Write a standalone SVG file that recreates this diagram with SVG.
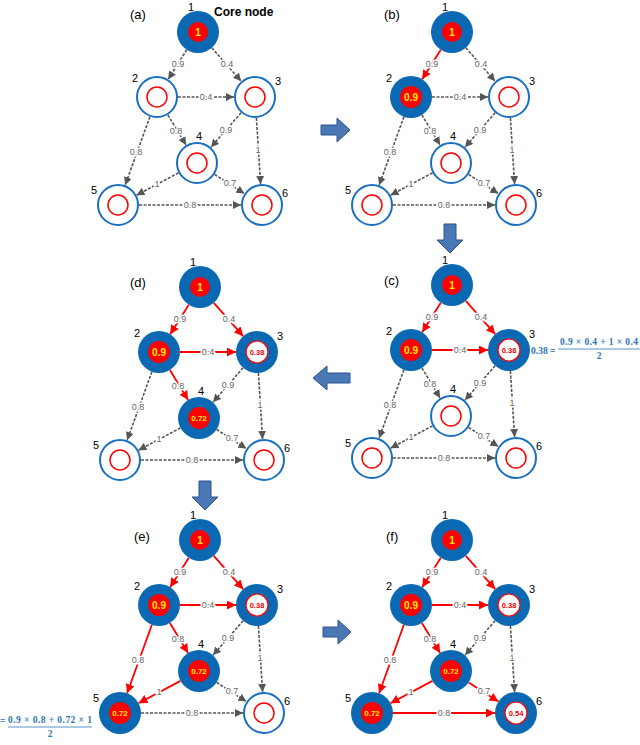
<svg xmlns="http://www.w3.org/2000/svg" width="640" height="745" viewBox="0 0 640 745">
<defs>
<marker id="mg" viewBox="0 0 8 8" refX="8" refY="4" markerWidth="8" markerHeight="8" markerUnits="userSpaceOnUse" orient="auto"><path d="M0,0 L8,4 L0,8 z" fill="#555"/></marker>
<marker id="mr" viewBox="0 0 8 8" refX="8" refY="4" markerWidth="9" markerHeight="9" markerUnits="userSpaceOnUse" orient="auto"><path d="M0,0 L8,4 L0,8 z" fill="#f00"/></marker>
</defs>
<style>
text{font-family:"Liberation Sans",Arial,sans-serif}
.g{stroke:#555;stroke-width:1.6;stroke-dasharray:3 1.5;fill:none;marker-end:url(#mg)}
.r{stroke:#f00;stroke-width:1.8;fill:none;marker-end:url(#mr)}
.el{font-size:9px;fill:#666;stroke:#fff;stroke-width:3;paint-order:stroke;text-anchor:middle;dominant-baseline:central}
.fb{fill:#0b69b4}
.ob{fill:#fff;stroke:#1a6fc0;stroke-width:2}
.ir{fill:#f00}
.io{fill:none;stroke:#f00;stroke-width:1.5}
.iw{fill:#fff;stroke:#f00;stroke-width:1.2}
.ty{fill:#ffeb00;font-weight:bold;font-size:10px;text-anchor:middle;dominant-baseline:central}
.ts{fill:#ffeb00;font-weight:bold;font-size:8px;text-anchor:middle;dominant-baseline:central}
.tr{fill:#e00;font-weight:bold;font-size:7.5px;text-anchor:middle;dominant-baseline:central}
.nl{font-size:11px;fill:#000}
.pl{font-size:13px;fill:#000}
.ba{fill:#4a78b5;stroke:#2f528f;stroke-width:1}
.fm{font-family:"Liberation Serif",serif;font-weight:bold;font-size:9.5px;fill:#2e75b6}
</style>

<text class="pl" x="130" y="19">(a)</text>
<text x="214" y="16" font-size="12" font-weight="bold">Core node</text>
<text class="pl" x="384" y="19">(b)</text>
<text class="pl" x="384" y="285">(c)</text>
<text class="pl" x="130" y="287">(d)</text>
<text class="pl" x="134" y="541">(e)</text>
<text class="pl" x="386" y="541">(f)</text>

<g id="bigarrows">
<path class="ba" d="M321,125 H337 V118 L350,130 L337,142 V135 H321 z"/>
<path class="ba" d="M444,224 H456 V240 H463 L450,253 L437,240 H444 z"/>
<path class="ba" d="M350,373 H327 V366 L313,378 L327,390 V383 H350 z"/>
<path class="ba" d="M199,481 H211 V497 H218 L205,510 L192,497 H199 z"/>
<path class="ba" d="M323,627 H338 V620 L351,632 L338,644 V637 H323 z"/>
</g>

<!-- panel a -->
<g transform="translate(0,0)">
<g id="a-edges">
<line class="g" x1="186.8" y1="49.7" x2="168.2" y2="79.3"/><line class="g" x1="211.8" y1="47.8" x2="241.2" y2="81.2"/><line class="g" x1="178" y1="97" x2="234" y2="97"/><line class="g" x1="167.9" y1="115" x2="186.1" y2="145"/><line class="g" x1="241.1" y1="112.8" x2="210.9" y2="147.2"/><line class="g" x1="149.9" y1="116.8" x2="125.1" y2="185.2"/><line class="g" x1="256.4" y1="118" x2="260.6" y2="184"/><line class="g" x1="178.5" y1="172.9" x2="136.5" y2="195.2"/><line class="g" x1="214.6" y1="174.4" x2="244.4" y2="193.6"/><line class="g" x1="139" y1="205" x2="241" y2="205"/>
<text class="el" x="178" y="64">0.9</text><text class="el" x="227" y="64">0.4</text><text class="el" x="206" y="97">0.4</text><text class="el" x="176" y="131">0.8</text><text class="el" x="226" y="130">0.9</text><text class="el" x="136" y="152">0.8</text><text class="el" x="258" y="150">1</text><text class="el" x="157" y="184">1</text><text class="el" x="230" y="183">0.7</text><text class="el" x="190" y="205">0.8</text>
</g>
<g id="a-n1" transform="translate(198,32)"><circle class="fb" r="21"/><circle class="ir" r="10"/><text class="ty">1</text><text class="nl" x="-10" y="-21">1</text></g>
<g id="a-n2" transform="translate(157,97)"><circle class="ob" r="20"/><circle class="io" r="10"/><text class="nl" x="-25" y="-15">2</text></g>
<g id="a-n3" transform="translate(255,97)"><circle class="ob" r="20"/><circle class="io" r="10"/><text class="nl" x="20" y="-12">3</text></g>
<g id="a-n4" transform="translate(197,163)"><circle class="ob" r="20"/><circle class="io" r="10"/><text class="nl" x="-1" y="-23">4</text></g>
<g id="a-n5" transform="translate(118,205)"><circle class="ob" r="20"/><circle class="io" r="10"/><text class="nl" x="-27" y="-11">5</text></g>
<g id="a-n6" transform="translate(262,205)"><circle class="ob" r="20"/><circle class="io" r="10"/><text class="nl" x="20" y="-8">6</text></g>
</g>

<!-- panel b -->
<g transform="translate(254,0)">
<g id="b-edges">
<line class="r" x1="186.8" y1="49.7" x2="168.2" y2="79.3"/><line class="g" x1="211.8" y1="47.8" x2="241.2" y2="81.2"/><line class="g" x1="178" y1="97" x2="234" y2="97"/><line class="g" x1="167.9" y1="115" x2="186.1" y2="145"/><line class="g" x1="241.1" y1="112.8" x2="210.9" y2="147.2"/><line class="g" x1="149.9" y1="116.8" x2="125.1" y2="185.2"/><line class="g" x1="256.4" y1="118" x2="260.6" y2="184"/><line class="g" x1="178.5" y1="172.9" x2="136.5" y2="195.2"/><line class="g" x1="214.6" y1="174.4" x2="244.4" y2="193.6"/><line class="g" x1="139" y1="205" x2="241" y2="205"/>
<text class="el" x="178" y="64">0.9</text><text class="el" x="227" y="64">0.4</text><text class="el" x="206" y="97">0.4</text><text class="el" x="176" y="131">0.8</text><text class="el" x="226" y="130">0.9</text><text class="el" x="136" y="152">0.8</text><text class="el" x="258" y="150">1</text><text class="el" x="157" y="184">1</text><text class="el" x="230" y="183">0.7</text><text class="el" x="190" y="205">0.8</text>
</g>
<g id="b-n1" transform="translate(198,32)"><circle class="fb" r="21"/><circle class="ir" r="10"/><text class="ty">1</text><text class="nl" x="-10" y="-21">1</text></g>
<g id="b-n2" transform="translate(157,97)"><circle class="fb" r="21"/><circle class="ir" r="11"/><text class="ty">0.9</text><text class="nl" x="-25" y="-15">2</text></g>
<g id="b-n3" transform="translate(255,97)"><circle class="ob" r="20"/><circle class="io" r="10"/><text class="nl" x="20" y="-12">3</text></g>
<g id="b-n4" transform="translate(197,163)"><circle class="ob" r="20"/><circle class="io" r="10"/><text class="nl" x="-1" y="-23">4</text></g>
<g id="b-n5" transform="translate(118,205)"><circle class="ob" r="20"/><circle class="io" r="10"/><text class="nl" x="-27" y="-11">5</text></g>
<g id="b-n6" transform="translate(262,205)"><circle class="ob" r="20"/><circle class="io" r="10"/><text class="nl" x="20" y="-8">6</text></g>
</g>

<!-- panel c -->
<g transform="translate(254,253)">
<g id="c-edges">
<line class="r" x1="186.8" y1="49.7" x2="168.2" y2="79.3"/><line class="r" x1="211.8" y1="47.8" x2="241.2" y2="81.2"/><line class="r" x1="178" y1="97" x2="234" y2="97"/><line class="g" x1="167.9" y1="115" x2="186.1" y2="145"/><line class="g" x1="241.1" y1="112.8" x2="210.9" y2="147.2"/><line class="g" x1="149.9" y1="116.8" x2="125.1" y2="185.2"/><line class="g" x1="256.4" y1="118" x2="260.6" y2="184"/><line class="g" x1="178.5" y1="172.9" x2="136.5" y2="195.2"/><line class="g" x1="214.6" y1="174.4" x2="244.4" y2="193.6"/><line class="g" x1="139" y1="205" x2="241" y2="205"/>
<text class="el" x="178" y="64">0.9</text><text class="el" x="227" y="64">0.4</text><text class="el" x="206" y="97">0.4</text><text class="el" x="176" y="131">0.8</text><text class="el" x="226" y="130">0.9</text><text class="el" x="136" y="152">0.8</text><text class="el" x="258" y="150">1</text><text class="el" x="157" y="184">1</text><text class="el" x="230" y="183">0.7</text><text class="el" x="190" y="205">0.8</text>
</g>
<g id="c-n1" transform="translate(198,32)"><circle class="fb" r="21"/><circle class="ir" r="10"/><text class="ty">1</text><text class="nl" x="-10" y="-21">1</text></g>
<g id="c-n2" transform="translate(157,97)"><circle class="fb" r="21"/><circle class="ir" r="11"/><text class="ty">0.9</text><text class="nl" x="-25" y="-15">2</text></g>
<g id="c-n3" transform="translate(255,97)"><circle class="fb" r="21"/><circle class="iw" r="11"/><text class="tr">0.38</text><text class="nl" x="20" y="-12">3</text></g>
<g id="c-n4" transform="translate(197,163)"><circle class="ob" r="20"/><circle class="io" r="10"/><text class="nl" x="-1" y="-23">4</text></g>
<g id="c-n5" transform="translate(118,205)"><circle class="ob" r="20"/><circle class="io" r="10"/><text class="nl" x="-27" y="-11">5</text></g>
<g id="c-n6" transform="translate(262,205)"><circle class="ob" r="20"/><circle class="io" r="10"/><text class="nl" x="20" y="-8">6</text></g>
</g>
<g id="formula-c">
<text class="fm" x="531" y="354">0.38 =</text>
<text class="fm" x="599" y="345" text-anchor="middle" textLength="78">0.9 × 0.4 + 1 × 0.4</text>
<line x1="558" y1="349" x2="640" y2="349" stroke="#2e75b6" stroke-width="0.8"/>
<text class="fm" x="599" y="359" text-anchor="middle">2</text>
</g>

<!-- panel d -->
<g transform="translate(2,255)">
<g id="d-edges">
<line class="r" x1="186.8" y1="49.7" x2="168.2" y2="79.3"/><line class="r" x1="211.8" y1="47.8" x2="241.2" y2="81.2"/><line class="r" x1="178" y1="97" x2="234" y2="97"/><line class="r" x1="167.9" y1="115" x2="186.1" y2="145"/><line class="g" x1="241.1" y1="112.8" x2="210.9" y2="147.2"/><line class="g" x1="149.9" y1="116.8" x2="125.1" y2="185.2"/><line class="g" x1="256.4" y1="118" x2="260.6" y2="184"/><line class="g" x1="178.5" y1="172.9" x2="136.5" y2="195.2"/><line class="g" x1="214.6" y1="174.4" x2="244.4" y2="193.6"/><line class="g" x1="139" y1="205" x2="241" y2="205"/>
<text class="el" x="178" y="64">0.9</text><text class="el" x="227" y="64">0.4</text><text class="el" x="206" y="97">0.4</text><text class="el" x="176" y="131">0.8</text><text class="el" x="226" y="130">0.9</text><text class="el" x="136" y="152">0.8</text><text class="el" x="258" y="150">1</text><text class="el" x="157" y="184">1</text><text class="el" x="230" y="183">0.7</text><text class="el" x="190" y="205">0.8</text>
</g>
<g id="d-n1" transform="translate(198,32)"><circle class="fb" r="21"/><circle class="ir" r="10"/><text class="ty">1</text><text class="nl" x="-10" y="-21">1</text></g>
<g id="d-n2" transform="translate(157,97)"><circle class="fb" r="21"/><circle class="ir" r="11"/><text class="ty">0.9</text><text class="nl" x="-25" y="-15">2</text></g>
<g id="d-n3" transform="translate(255,97)"><circle class="fb" r="21"/><circle class="iw" r="11"/><text class="tr">0.38</text><text class="nl" x="20" y="-12">3</text></g>
<g id="d-n4" transform="translate(197,163)"><circle class="fb" r="21"/><circle class="ir" r="11"/><text class="ts">0.72</text><text class="nl" x="-1" y="-23">4</text></g>
<g id="d-n5" transform="translate(118,205)"><circle class="ob" r="20"/><circle class="io" r="10"/><text class="nl" x="-27" y="-11">5</text></g>
<g id="d-n6" transform="translate(262,205)"><circle class="ob" r="20"/><circle class="io" r="10"/><text class="nl" x="20" y="-8">6</text></g>
</g>

<!-- panel e -->
<g transform="translate(2,508)">
<g id="e-edges">
<line class="r" x1="186.8" y1="49.7" x2="168.2" y2="79.3"/><line class="r" x1="211.8" y1="47.8" x2="241.2" y2="81.2"/><line class="r" x1="178" y1="97" x2="234" y2="97"/><line class="r" x1="167.9" y1="115" x2="186.1" y2="145"/><line class="g" x1="241.1" y1="112.8" x2="210.9" y2="147.2"/><line class="r" x1="149.9" y1="116.8" x2="125.1" y2="185.2"/><line class="g" x1="256.4" y1="118" x2="260.6" y2="184"/><line class="r" x1="178.5" y1="172.9" x2="136.5" y2="195.2"/><line class="g" x1="214.6" y1="174.4" x2="244.4" y2="193.6"/><line class="g" x1="139" y1="205" x2="241" y2="205"/>
<text class="el" x="178" y="64">0.9</text><text class="el" x="227" y="64">0.4</text><text class="el" x="206" y="97">0.4</text><text class="el" x="176" y="131">0.8</text><text class="el" x="226" y="130">0.9</text><text class="el" x="136" y="152">0.8</text><text class="el" x="258" y="150">1</text><text class="el" x="157" y="184">1</text><text class="el" x="230" y="183">0.7</text><text class="el" x="190" y="205">0.8</text>
</g>
<g id="e-n1" transform="translate(198,32)"><circle class="fb" r="21"/><circle class="ir" r="10"/><text class="ty">1</text><text class="nl" x="-10" y="-21">1</text></g>
<g id="e-n2" transform="translate(157,97)"><circle class="fb" r="21"/><circle class="ir" r="11"/><text class="ty">0.9</text><text class="nl" x="-25" y="-15">2</text></g>
<g id="e-n3" transform="translate(255,97)"><circle class="fb" r="21"/><circle class="iw" r="11"/><text class="tr">0.38</text><text class="nl" x="20" y="-12">3</text></g>
<g id="e-n4" transform="translate(197,163)"><circle class="fb" r="21"/><circle class="ir" r="11"/><text class="ts">0.72</text><text class="nl" x="-1" y="-23">4</text></g>
<g id="e-n5" transform="translate(118,205)"><circle class="fb" r="21"/><circle class="ir" r="11"/><text class="ts">0.72</text><text class="nl" x="-27" y="-11">5</text></g>
<g id="e-n6" transform="translate(262,205)"><circle class="ob" r="20"/><circle class="io" r="10"/><text class="nl" x="20" y="-8">6</text></g>
</g>
<g id="formula-e">
<text class="fm" x="0" y="724" font-size="7">=</text>
<text class="fm" x="50" y="723" text-anchor="middle" textLength="84">0.9 × 0.8 + 0.72 × 1</text>
<line x1="8" y1="727" x2="92" y2="727" stroke="#2e75b6" stroke-width="0.8"/>
<text class="fm" x="50" y="737" text-anchor="middle">2</text>
</g>

<!-- panel f -->
<g transform="translate(254,508)">
<g id="f-edges">
<line class="r" x1="186.8" y1="49.7" x2="168.2" y2="79.3"/><line class="r" x1="211.8" y1="47.8" x2="241.2" y2="81.2"/><line class="r" x1="178" y1="97" x2="234" y2="97"/><line class="r" x1="167.9" y1="115" x2="186.1" y2="145"/><line class="g" x1="241.1" y1="112.8" x2="210.9" y2="147.2"/><line class="r" x1="149.9" y1="116.8" x2="125.1" y2="185.2"/><line class="g" x1="256.4" y1="118" x2="260.6" y2="184"/><line class="r" x1="178.5" y1="172.9" x2="136.5" y2="195.2"/><line class="r" x1="214.6" y1="174.4" x2="244.4" y2="193.6"/><line class="r" x1="139" y1="205" x2="241" y2="205"/>
<text class="el" x="178" y="64">0.9</text><text class="el" x="227" y="64">0.4</text><text class="el" x="206" y="97">0.4</text><text class="el" x="176" y="131">0.8</text><text class="el" x="226" y="130">0.9</text><text class="el" x="136" y="152">0.8</text><text class="el" x="258" y="150">1</text><text class="el" x="157" y="184">1</text><text class="el" x="230" y="183">0.7</text><text class="el" x="190" y="205">0.8</text>
</g>
<g id="f-n1" transform="translate(198,32)"><circle class="fb" r="21"/><circle class="ir" r="10"/><text class="ty">1</text><text class="nl" x="-10" y="-21">1</text></g>
<g id="f-n2" transform="translate(157,97)"><circle class="fb" r="21"/><circle class="ir" r="11"/><text class="ty">0.9</text><text class="nl" x="-25" y="-15">2</text></g>
<g id="f-n3" transform="translate(255,97)"><circle class="fb" r="21"/><circle class="iw" r="11"/><text class="tr">0.38</text><text class="nl" x="20" y="-12">3</text></g>
<g id="f-n4" transform="translate(197,163)"><circle class="fb" r="21"/><circle class="ir" r="11"/><text class="ts">0.72</text><text class="nl" x="-1" y="-23">4</text></g>
<g id="f-n5" transform="translate(118,205)"><circle class="fb" r="21"/><circle class="ir" r="11"/><text class="ts">0.72</text><text class="nl" x="-27" y="-11">5</text></g>
<g id="f-n6" transform="translate(262,205)"><circle class="fb" r="21"/><circle class="iw" r="11"/><text class="tr">0.54</text><text class="nl" x="20" y="-8">6</text></g>
</g>
</svg>
